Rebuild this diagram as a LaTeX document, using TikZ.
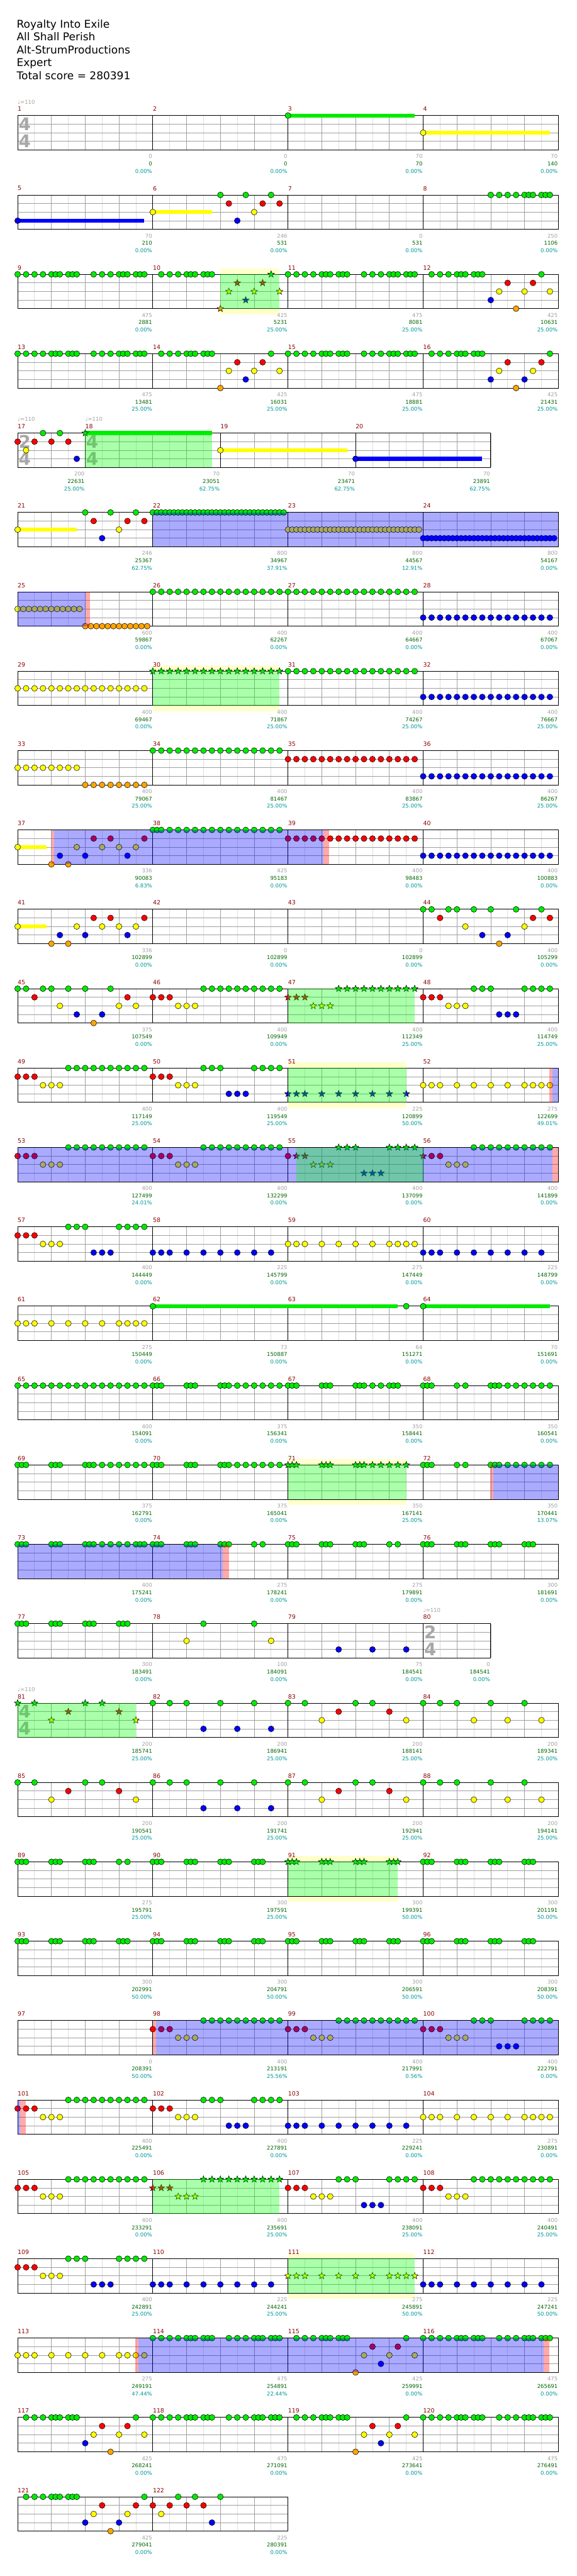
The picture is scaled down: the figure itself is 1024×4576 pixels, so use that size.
\documentclass[tikz,border=0pt]{standalone}
\usepackage{fontspec}
\setmainfont{DejaVu Sans}
\definecolor{nG}{RGB}{0,235,0}
\definecolor{nR}{RGB}{255,0,0}
\definecolor{nY}{RGB}{255,255,0}
\definecolor{nB}{RGB}{0,0,255}
\definecolor{nO}{RGB}{255,165,0}
\definecolor{cmn}{RGB}{139,0,0}
\definecolor{cga}{RGB}{160,160,160}
\definecolor{cgr}{RGB}{0,100,0}
\definecolor{cte}{RGB}{0,150,150}
\definecolor{chb}{RGB}{221,221,221}
\definecolor{cbt}{RGB}{160,160,160}
\definecolor{cyr}{RGB}{255,255,204}
\definecolor{cts}{RGB}{168,168,168}
\definecolor{ovgc}{RGB}{0,255,0}
\def\LG{0}\def\LR{15.25}\def\LY{30.5}\def\LB{45.75}\def\LO{61}
\tikzset{
 nt/.style={draw=black,line width=0.6pt},
 hb/.style={draw=chb,line width=0.9pt},
 bt/.style={draw=cbt,line width=0.9pt},
 ml/.style={draw=black,line width=1pt},
 ovg/.style={fill=ovgc,fill opacity=0.333},
 ovb/.style={fill=blue,fill opacity=0.333},
 ovp/.style={fill=red,fill opacity=0.333},
 yreg/.style={fill=cyr},
 mnum/.style={anchor=west,inner sep=0pt,text=cmn,font=\fontsize{10.5}{11}\selectfont},
 sgray/.style={anchor=east,inner sep=0pt,text=cga,font=\fontsize{9.5}{10}\selectfont},
 sgreen/.style={anchor=east,inner sep=0pt,text=cgr,font=\fontsize{9.5}{10}\selectfont},
 steal/.style={anchor=east,inner sep=0pt,text=cte,font=\fontsize{9.5}{10}\selectfont},
 tempo/.style={anchor=west,inner sep=0pt,text=cga,font=\fontsize{9.5}{10}\selectfont},
 tsig/.style={inner sep=0pt,text=cts,font=\fontsize{31}{31}\selectfont\bfseries},
 ttl/.style={anchor=base west,inner sep=0pt,font=\fontsize{19}{23}\selectfont},
 rowat/.style={shift={(31.3,{205.3+141*#1})}}
}
\newcommand\Nt[2]{\foreach \p in {#2}{\filldraw[nt,fill=n#1] ({15*(\p)},\csname L#1\endcsname) circle[radius=5.2];}}
\newcommand\Sr[2]{\foreach \p in {#2}{\filldraw[nt,fill=n#1,shift={({15*(\p)},\csname L#1\endcsname)}] (270:6.2)--(306:2.6)--(342:6.2)--(18:2.6)--(54:6.2)--(90:2.6)--(126:6.2)--(162:2.6)--(198:6.2)--(234:2.6)--cycle;}}
\newcommand\Su[3]{\fill[n#1] ({15*(#2)},{\csname L#1\endcsname-3.5}) rectangle ({15*(#3)},{\csname L#1\endcsname+3.5});}
\newcommand\Og[2]{\fill[ovg] ({15*(#1)},0) rectangle ({15*(#2)},61);}
\newcommand\Ob[2]{\fill[ovb] ({15*(#1)},0) rectangle ({15*(#2)},61);}
\newcommand\Op[2]{\fill[ovp] ({15*(#1)},0) rectangle ({15*(#2)},61);}
\newcommand\Yr[2]{\fill[yreg] ({15*(#1)},-10) rectangle ({15*(#2)},71);}
\newcommand\Mz[6]{%
 \node[mnum] (mn#1) at ({15*(#2)},-11.6) {#1};
 \node[sgray] (sa#1) at ({15*(#3)-1},72.7) {#4};
 \node[sgreen] (sb#1) at ({15*(#3)-1},85.7) {#5};
 \node[steal] (sc#1) at ({15*(#3)-1},98.7) {#6\%};}
\newcommand\Tq[2]{\node[tempo] (#1) at ({15*(#2)},-24.3) {♩=110};}
\newcommand\Tsig[4]{\node[tsig] (#1a) at ({15*(#2)+12.5},15.5) {#3};\node[tsig] (#1b) at ({15*(#2)+12.5},45.5) {#4};}
\newcommand\Staff[2]{%
 \fill[white] (0,0) rectangle ({15*(#1)},61);
 \pgfmathtruncatemacro\nbt{(#1)/4}%
 \foreach \k in {1,...,\nbt}{\draw[hb] ({60*\k-30},0) -- ({60*\k-30},61);}
 \foreach \k in {1,...,\nbt}{\draw[bt] ({60*\k},0) -- ({60*\k},61);}
 \foreach \yy in {15.25,30.5,45.75}{\draw[bt] (0,\yy) -- ({15*(#1)},\yy);}
 \foreach \mm in {#2}{\draw[ml] ({15*(\mm)},0) -- ({15*(\mm)},61);}
 \draw[ml] (0,0) rectangle ({15*(#1)},61);}
\begin{document}
\begin{tikzpicture}[x=1pt,y=-1pt]
\useasboundingbox (0,0) rectangle (1024,4576);
\node[ttl] (t1) at (29.5,49.3) {Royalty Into Exile};
\node[ttl] (t2) at (29.5,72.3) {All Shall Perish};
\node[ttl] (t3) at (29.5,95.3) {Alt-StrumProductions};
\node[ttl] (t4) at (29.5,118.3) {Expert};
\node[ttl] (t5) at (29.5,141.3) {Total score = 280391};
% row 0
\begin{scope}[rowat=0]
\Staff{64}{16,32,48}
\Tsig{ts0}{0}{4}{4}\Tq{tp0}{0}
\Su{G}{32}{47}\Nt{G}{32}
\Su{Y}{48}{63}\Nt{Y}{48}
\Mz{1}{0}{16}{0}{0}{0.00}\Mz{2}{16}{32}{0}{0}{0.00}\Mz{3}{32}{48}{70}{70}{0.00}\Mz{4}{48}{64}{70}{140}{0.00}
\end{scope}
% row 1
\begin{scope}[rowat=1]
\Staff{64}{16,32,48}
\Su{B}{0}{15}\Nt{B}{0,26}\Su{Y}{16}{23}\Nt{Y}{16,28}
\Nt{G}{24,27,30,56,57,58,59,60,60.5,61,62,62.5,63}\Nt{R}{25,29,31}
\Mz{5}{0}{16}{70}{210}{0.00}\Mz{6}{16}{32}{246}{531}{0.00}\Mz{7}{32}{48}{0}{531}{0.00}\Mz{8}{48}{64}{250}{1106}{0.00}
\end{scope}
% row 2
\begin{scope}[rowat=2]
\Yr{24}{31}
\Staff{64}{16,32,48}
\Nt{G}{0,1,2,3,4,4.5,5,6,6.5,7,9,10,11,12,12.5,13,14,14.5,15,17,18,19,20,20.5,21,22,22.5,23,32,33,34,35,36,36.5,37,38,38.5,39,41,42,43,44,44.5,45,46,46.5,47,49,50,51,52,52.5,53,54,54.5,55,62}
\Sr{O}{24}\Sr{Y}{25,28,31}\Sr{R}{26,29}\Sr{B}{27}\Sr{G}{30}
\Nt{B}{56}\Nt{Y}{57,60,63}\Nt{R}{58,61}\Nt{O}{59}
\Og{24}{31}
\Mz{9}{0}{16}{475}{2881}{0.00}\Mz{10}{16}{32}{425}{5231}{25.00}\Mz{11}{32}{48}{475}{8081}{25.00}\Mz{12}{48}{64}{425}{10631}{25.00}
\end{scope}
% row 3
\begin{scope}[rowat=3]
\Staff{64}{16,32,48}
\Nt{G}{0,1,2,3,4,4.5,5,6,6.5,7,9,10,11,12,12.5,13,14,14.5,15,17,18,19,20,20.5,21,22,22.5,23,30,32,33,34,35,36,36.5,37,38,38.5,39,41,42,43,44,44.5,45,46,46.5,47,49,50,51,52,52.5,53,54,54.5,55,63}
\Nt{O}{24,59}\Nt{Y}{25,28,31,57,61}\Nt{R}{26,29,58,62}\Nt{B}{27,56,60}
\Mz{13}{0}{16}{475}{13481}{25.00}\Mz{14}{16}{32}{425}{16031}{25.00}\Mz{15}{32}{48}{475}{18881}{25.00}\Mz{16}{48}{64}{425}{21431}{25.00}
\end{scope}
% row 4
\begin{scope}[rowat=4]
\Staff{56}{8,24,40}
\Tsig{ts4}{0}{2}{4}\Tsig{ts4b}{8}{4}{4}\Tq{tp4}{0}\Tq{tp4b}{8}
\Nt{R}{0,2,4,6}\Nt{Y}{1}\Nt{G}{3,5}\Nt{B}{7}
\Su{G}{8}{23}\Sr{G}{8}
\Su{Y}{24}{39}\Nt{Y}{24}
\Su{B}{40}{55}\Nt{B}{40}
\Og{8}{23}
\Mz{17}{0}{8}{200}{22631}{25.00}\Mz{18}{8}{24}{70}{23051}{62.75}\Mz{19}{24}{40}{70}{23471}{62.75}\Mz{20}{40}{56}{70}{23891}{62.75}
\end{scope}
% row 5
\begin{scope}[rowat=5]
\Staff{64}{16,32,48}
\Su{Y}{0}{7}\Nt{Y}{0,12}\Nt{G}{8,11,14}\Nt{R}{9,13,15}\Nt{B}{10}
\Nt{G}{16,16.5,...,31.5}\Nt{Y}{32,32.5,...,47.5}\Nt{B}{48,48.5,...,63.5}
\Ob{16}{64}
\Mz{21}{0}{16}{246}{25367}{62.75}\Mz{22}{16}{32}{800}{34967}{37.91}\Mz{23}{32}{48}{800}{44567}{12.91}\Mz{24}{48}{64}{800}{54167}{0.00}
\end{scope}
% row 6
\begin{scope}[rowat=6]
\Staff{64}{16,32,48}
\Nt{Y}{0,0.667,1.333,2,2.667,3.333,4,4.667,5.333,6,6.667,7.333}
\Nt{O}{8,8.667,9.333,10,10.667,11.333,12,12.667,13.333,14,14.667,15.333}
\Nt{G}{16,...,47}\Nt{B}{48,...,63}
\Ob{0}{8.05}\Op{8.05}{8.6}
\Mz{25}{0}{16}{600}{59867}{0.00}\Mz{26}{16}{32}{400}{62267}{0.00}\Mz{27}{32}{48}{400}{64667}{0.00}\Mz{28}{48}{64}{400}{67067}{0.00}
\end{scope}
% row 7
\begin{scope}[rowat=7]
\Yr{16}{31}
\Staff{64}{16,32,48}
\Nt{Y}{0,...,15}\Sr{G}{16,...,31}\Nt{G}{32,...,47}\Nt{B}{48,...,63}
\Og{16}{31}
\Mz{29}{0}{16}{400}{69467}{0.00}\Mz{30}{16}{32}{400}{71867}{25.00}\Mz{31}{32}{48}{400}{74267}{25.00}\Mz{32}{48}{64}{400}{76667}{25.00}
\end{scope}
% row 8
\begin{scope}[rowat=8]
\Staff{64}{16,32,48}
\Nt{Y}{0,...,7}\Nt{O}{8,...,15}\Nt{G}{16,...,31}\Nt{R}{32,...,47}\Nt{B}{48,...,63}
\Mz{33}{0}{16}{400}{79067}{25.00}\Mz{34}{16}{32}{400}{81467}{25.00}\Mz{35}{32}{48}{400}{83867}{25.00}\Mz{36}{48}{64}{400}{86267}{25.00}
\end{scope}
% row 9
\begin{scope}[rowat=9]
\Staff{64}{16,32,48}
\Su{Y}{0}{3.45}\Nt{Y}{0,7,10,12,14}\Nt{O}{4,6}\Nt{B}{5,8,13}\Nt{R}{9,11,15}
\Nt{G}{16,16.5}\Nt{G}{17,...,31}\Nt{R}{32,...,47}\Nt{B}{48,...,63}
\Op{4}{4.3}\Ob{4.3}{36.2}\Op{36.2}{36.9}
\Mz{37}{0}{16}{336}{90083}{6.83}\Mz{38}{16}{32}{425}{95183}{0.00}\Mz{39}{32}{48}{400}{98483}{0.00}\Mz{40}{48}{64}{400}{100883}{0.00}
\end{scope}
% row 10
\begin{scope}[rowat=10]
\Staff{64}{16,32,48}
\Su{Y}{0}{3.45}\Nt{Y}{0,7,10,12,14}\Nt{O}{4,6}\Nt{B}{5,8,13}\Nt{R}{9,11,15}
\Nt{G}{48,49,51,52,54,56,59,62}\Nt{R}{50,61,63}\Nt{Y}{53,60}\Nt{B}{55,58}\Nt{O}{57}
\Mz{41}{0}{16}{336}{102899}{0.00}\Mz{42}{16}{32}{0}{102899}{0.00}\Mz{43}{32}{48}{0}{102899}{0.00}\Mz{44}{48}{64}{400}{105299}{0.00}
\end{scope}
% row 11
\begin{scope}[rowat=11]
\Staff{64}{16,32,48}
\Nt{G}{0,1,3,4,6,8,11}\Nt{R}{2,13}\Nt{Y}{5,12,14}\Nt{B}{7,10}\Nt{O}{9}
\Nt{R}{16,17,18}\Nt{Y}{19,20,21}\Nt{G}{22,...,31}
\Sr{R}{32,33,34}\Sr{Y}{35,36,37}\Sr{G}{38,...,47}
\Nt{R}{48,49,50}\Nt{Y}{51,52,53}\Nt{G}{54,55,56,60,61,62,63}\Nt{B}{57,58,59}
\Og{32}{47}
\Mz{45}{0}{16}{375}{107549}{0.00}\Mz{46}{16}{32}{400}{109949}{0.00}\Mz{47}{32}{48}{400}{112349}{25.00}\Mz{48}{48}{64}{400}{114749}{25.00}
\end{scope}
% row 12
\begin{scope}[rowat=12]
\Yr{32}{46}
\Staff{64}{16,32,48}
\Nt{R}{0,1,2,16,17,18}\Nt{Y}{3,4,5,19,20,21}\Nt{G}{6,...,15}\Nt{G}{22,23,24,28,29,30,31}\Nt{B}{25,26,27}
\Sr{B}{32,33,34,36,38,40,42,44,46}
\Nt{Y}{48,49,50,52,54,56,58,60,61,62,63}
\Og{32}{46}\Op{62.9}{63.3}\Ob{63.3}{64}
\Mz{49}{0}{16}{400}{117149}{25.00}\Mz{50}{16}{32}{400}{119549}{25.00}\Mz{51}{32}{48}{225}{120899}{50.00}\Mz{52}{48}{64}{275}{122699}{49.01}
\end{scope}
% row 13
\begin{scope}[rowat=13]
\Staff{64}{16,32,48}
\Nt{R}{0,1,2,16,17,18,32,49,50}\Nt{Y}{3,4,5,19,20,21,51,52,53}\Nt{G}{6,...,15}\Nt{G}{22,...,31}\Nt{G}{54,...,63}
\Sr{R}{33,34,48}\Sr{Y}{35,36,37}\Sr{G}{38,39,40,44,45,46,47}\Sr{B}{41,42,43}
\Ob{0}{63.3}\Op{63.3}{64}\Og{33}{48}
\Mz{53}{0}{16}{400}{127499}{24.01}\Mz{54}{16}{32}{400}{132299}{0.00}\Mz{55}{32}{48}{400}{137099}{0.00}\Mz{56}{48}{64}{400}{141899}{0.00}
\end{scope}
% row 14
\begin{scope}[rowat=14]
\Staff{64}{16,32,48}
\Nt{R}{0,1,2}\Nt{Y}{3,4,5}\Nt{G}{6,7,8,12,13,14,15}\Nt{B}{9,10,11}
\Nt{B}{16,17,18,20,22,24,26,28,30}\Nt{Y}{32,33,34,36,38,40,42,44,45,46,47}\Nt{B}{48,49,50,52,54,56,58,60,62}
\Mz{57}{0}{16}{400}{144449}{0.00}\Mz{58}{16}{32}{225}{145799}{0.00}\Mz{59}{32}{48}{275}{147449}{0.00}\Mz{60}{48}{64}{225}{148799}{0.00}
\end{scope}
% row 15
\begin{scope}[rowat=15]
\Staff{64}{16,32,48}
\Nt{Y}{0,1,2,4,6,8,10,12,13,14,15}
\Su{G}{16}{45}\Nt{G}{16,46}\Su{G}{48}{63}\Nt{G}{48}
\Mz{61}{0}{16}{275}{150449}{0.00}\Mz{62}{16}{32}{73}{150887}{0.00}\Mz{63}{32}{48}{64}{151271}{0.00}\Mz{64}{48}{64}{70}{151691}{0.00}
\end{scope}
% row 16
\begin{scope}[rowat=16]
\Staff{64}{16,32,48}
\Nt{G}{0,...,15}
\Nt{G}{16,16.5,17,20,20.5,21,24,24.5,25,26,27,28,29,30,31,32,32.5,33,36,36.5,37,40,40.5,41,42,43,44,44.5,45,48,48.5,49,52,53,56,56.5,57,58,59,60,61,62,63}
\Mz{65}{0}{16}{400}{154091}{0.00}\Mz{66}{16}{32}{375}{156341}{0.00}\Mz{67}{32}{48}{350}{158441}{0.00}\Mz{68}{48}{64}{350}{160541}{0.00}
\end{scope}
% row 17
\begin{scope}[rowat=17]
\Yr{32}{46}
\Staff{64}{16,32,48}
\Nt{G}{0,0.5,1,4,4.5,5,8,8.5,9,10,11,12,13,14,15,16,16.5,17,20,20.5,21,24,24.5,25,26,27,28,29,30,31,48,48.5,49,52,53,56,56.5,57,58,59,60,61,62,63}
\Sr{G}{32,32.5,33,36,36.5,37,40,40.5,41,42,43,44,45,46}
\Og{32}{46}\Op{55.96}{56.3}\Ob{56.3}{64}
\Mz{69}{0}{16}{375}{162791}{0.00}\Mz{70}{16}{32}{375}{165041}{0.00}\Mz{71}{32}{48}{350}{167141}{25.00}\Mz{72}{48}{64}{350}{170441}{13.07}
\end{scope}
% row 18
\begin{scope}[rowat=18]
\Staff{64}{16,32,48}
\Nt{G}{0,0.5,1,4,4.5,5,8,8.5,9,10,11,12,13,14,14.5,15,16,16.5,17,20,20.5,21,24,24.5,25,28,29,32,32.5,33,36,36.5,37,40,40.5,41,44,45,48,48.5,49,52,52.5,53,56,56.5,57,60,60.5,61}
\Ob{0}{24.25}\Op{24.25}{25}
\Mz{73}{0}{16}{400}{175241}{0.00}\Mz{74}{16}{32}{275}{178241}{0.00}\Mz{75}{32}{48}{275}{179891}{0.00}\Mz{76}{48}{64}{300}{181691}{0.00}
\end{scope}
% row 19
\begin{scope}[rowat=19]
\Staff{56}{16,32,48}
\Tsig{ts19}{48}{2}{4}\Tq{tp19}{48}
\Nt{G}{0,0.5,1,4,4.5,5,8,8.5,9,12,12.5,13,22,28}\Nt{Y}{20,30}\Nt{B}{38,42,46}
\Mz{77}{0}{16}{300}{183491}{0.00}\Mz{78}{16}{32}{100}{184091}{0.00}\Mz{79}{32}{48}{75}{184541}{0.00}\Mz{80}{48}{56}{0}{184541}{0.00}
\end{scope}
% row 20
\begin{scope}[rowat=20]
\Staff{64}{16,32,48}
\Tsig{ts20}{0}{4}{4}\Tq{tp20}{0}
\Sr{G}{0,2,8,10}\Sr{Y}{4,14}\Sr{R}{6,12}
\Nt{G}{16,18,20,24,28,32,34,40,42,48,50,52,56,60}\Nt{B}{22,26,30}\Nt{Y}{36,46,54,58,62}\Nt{R}{38,44}
\Og{0}{14}
\Mz{81}{0}{16}{200}{185741}{25.00}\Mz{82}{16}{32}{200}{186941}{25.00}\Mz{83}{32}{48}{200}{188141}{25.00}\Mz{84}{48}{64}{200}{189341}{25.00}
\end{scope}
% row 21
\begin{scope}[rowat=21]
\Staff{64}{16,32,48}
\Nt{G}{0,2,8,10,16,18,20,24,28,32,34,40,42,48,50,52,56,60}\Nt{Y}{4,14,36,46,54,58,62}\Nt{R}{6,12,38,44}\Nt{B}{22,26,30}
\Mz{85}{0}{16}{200}{190541}{25.00}\Mz{86}{16}{32}{200}{191741}{25.00}\Mz{87}{32}{48}{200}{192941}{25.00}\Mz{88}{48}{64}{200}{194141}{25.00}
\end{scope}
% row 22
\begin{scope}[rowat=22]
\Yr{32}{45}
\Staff{64}{16,32,48}
\Nt{G}{0,0.5,1,4,4.5,5,8,8.5,9,12,13,16,16.5,17,20,20.5,21,24,24.5,25,28,28.5,29,48,48.5,49,52,52.5,53,56,56.5,57,60,60.5,61}
\Sr{G}{32,32.5,33,36,36.5,37,40,40.5,41,44,44.5,45}
\Og{32}{45}
\Mz{89}{0}{16}{275}{195791}{25.00}\Mz{90}{16}{32}{300}{197591}{25.00}\Mz{91}{32}{48}{300}{199391}{50.00}\Mz{92}{48}{64}{300}{201191}{50.00}
\end{scope}
% row 23
\begin{scope}[rowat=23]
\Staff{64}{16,32,48}
\Nt{G}{0,0.5,1,4,4.5,5,8,8.5,9,12,12.5,13,16,16.5,17,20,20.5,21,24,24.5,25,28,28.5,29,32,32.5,33,36,36.5,37,40,40.5,41,44,44.5,45,48,48.5,49,52,52.5,53,56,56.5,57,60,60.5,61}
\Mz{93}{0}{16}{300}{202991}{50.00}\Mz{94}{16}{32}{300}{204791}{50.00}\Mz{95}{32}{48}{300}{206591}{50.00}\Mz{96}{48}{64}{300}{208391}{50.00}
\end{scope}
% row 24
\begin{scope}[rowat=24]
\Staff{64}{16,32,48}
\Nt{R}{16,17,18,32,33,34,48,49,50}\Nt{Y}{19,20,21,35,36,37,51,52,53}\Nt{G}{22,...,31}\Nt{G}{38,...,47}\Nt{G}{54,55,56,60,61,62,63}\Nt{B}{57,58,59}
\Op{16}{16.35}\Ob{16.35}{64}
\Mz{97}{0}{16}{0}{208391}{50.00}\Mz{98}{16}{32}{400}{213191}{25.56}\Mz{99}{32}{48}{400}{217991}{0.56}\Mz{100}{48}{64}{400}{222791}{0.00}
\end{scope}
% row 25
\begin{scope}[rowat=25]
\Staff{64}{16,32,48}
\Nt{R}{0,1,2,16,17,18}\Nt{Y}{3,4,5,19,20,21}\Nt{G}{6,...,15}\Nt{G}{22,23,24,28,29,30,31}\Nt{B}{25,26,27}
\Nt{B}{32,33,34,36,38,40,42,44,46}\Nt{Y}{48,49,50,52,54,56,58,60,61,62,63}
\Ob{0}{0.3}\Op{0.3}{0.96}
\Mz{101}{0}{16}{400}{225491}{0.00}\Mz{102}{16}{32}{400}{227891}{0.00}\Mz{103}{32}{48}{225}{229241}{0.00}\Mz{104}{48}{64}{275}{230891}{0.00}
\end{scope}
% row 26
\begin{scope}[rowat=26]
\Staff{64}{16,32,48}
\Nt{R}{0,1,2,32,33,34,48,49,50}\Nt{Y}{3,4,5,35,36,37,51,52,53}\Nt{G}{6,...,15}\Nt{G}{38,39,40,44,45,46,47}\Nt{B}{41,42,43}\Nt{G}{54,...,63}
\Sr{R}{16,17,18}\Sr{Y}{19,20,21}\Sr{G}{22,...,31}
\Og{16}{31}
\Mz{105}{0}{16}{400}{233291}{0.00}\Mz{106}{16}{32}{400}{235691}{25.00}\Mz{107}{32}{48}{400}{238091}{25.00}\Mz{108}{48}{64}{400}{240491}{25.00}
\end{scope}
% row 27
\begin{scope}[rowat=27]
\Yr{32}{47}
\Staff{64}{16,32,48}
\Nt{R}{0,1,2}\Nt{Y}{3,4,5}\Nt{G}{6,7,8,12,13,14,15}\Nt{B}{9,10,11}
\Nt{B}{16,17,18,20,22,24,26,28,30}
\Sr{Y}{32,33,34,36,38,40,42,44,45,46,47}
\Nt{B}{48,49,50,52,54,56,58,60,62}
\Og{32}{47}
\Mz{109}{0}{16}{400}{242891}{25.00}\Mz{110}{16}{32}{225}{244241}{25.00}\Mz{111}{32}{48}{275}{245891}{50.00}\Mz{112}{48}{64}{225}{247241}{50.00}
\end{scope}
% row 28
\begin{scope}[rowat=28]
\Staff{64}{16,32,48}
\Nt{Y}{0,1,2,4,6,8,10,12,13,14,15}
\Nt{G}{16,17,18,19,20,20.5,21,22,22.5,23,25,26,27,28,28.5,29,30,30.5,31}
\Nt{G}{33,34,35,36,36.5,37,38,38.5,39,46}\Nt{O}{40}\Nt{Y}{41,44,47}\Nt{R}{42,45}\Nt{B}{43}
\Nt{G}{48,49,50,51,52,52.5,53,54,54.5,55,57,58,59,60,60.5,61,62,62.5,63}
\Op{13.9}{14.3}\Ob{14.3}{62.26}\Op{62.26}{62.96}
\Mz{113}{0}{16}{275}{249191}{47.44}\Mz{114}{16}{32}{475}{254891}{22.44}\Mz{115}{32}{48}{425}{259991}{0.00}\Mz{116}{48}{64}{475}{265691}{0.00}
\end{scope}
% row 29
\begin{scope}[rowat=29]
\Staff{64}{16,32,48}
\Nt{G}{1,2,3,4,4.5,5,6,6.5,7,14}\Nt{B}{8}\Nt{Y}{9,12,15}\Nt{R}{10,13}\Nt{O}{11}
\Nt{G}{16,17,18,19,20,20.5,21,22,22.5,23,25,26,27,28,28.5,29,30,30.5,31}
\Nt{G}{33,34,35,36,36.5,37,38,38.5,39,46}\Nt{O}{40}\Nt{Y}{41,44,47}\Nt{R}{42,45}\Nt{B}{43}
\Nt{G}{48,49,50,51,52,52.5,53,54,54.5,55,57,58,59,60,60.5,61,62,62.5,63}
\Mz{117}{0}{16}{425}{268241}{0.00}\Mz{118}{16}{32}{475}{271091}{0.00}\Mz{119}{32}{48}{425}{273641}{0.00}\Mz{120}{48}{64}{475}{276491}{0.00}
\end{scope}
% row 30
\begin{scope}[rowat=30]
\Staff{32}{16}
\Nt{G}{1,2,3,4,4.5,5,6,6.5,7,15}\Nt{B}{8,12}\Nt{Y}{9,13}\Nt{R}{10,14}\Nt{O}{11}
\Nt{R}{16,18,20,22}\Nt{Y}{17}\Nt{G}{19,21,24}\Nt{B}{23}
\Mz{121}{0}{16}{425}{279041}{0.00}\Mz{122}{16}{32}{225}{280391}{0.00}
\end{scope}
\end{tikzpicture}
\end{document}
